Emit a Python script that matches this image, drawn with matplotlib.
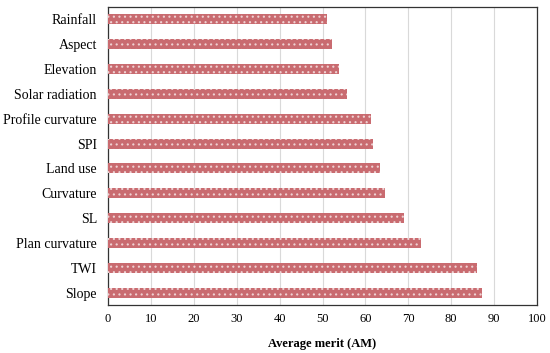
import matplotlib

matplotlib.use("Agg")
import matplotlib.pyplot as plt

plt.rcParams["font.family"] = ["Liberation Serif", "DejaVu Serif"]
plt.rcParams["hatch.linewidth"] = 0.8

factors = [
    "Slope", "TWI", "Plan curvature", "SL", "Curvature", "Land use",
    "SPI", "Profile curvature", "Solar radiation", "Elevation", "Aspect", "Rainfall",
]
merit = [87.1, 85.9, 73.0, 69.1, 64.6, 63.5, 61.8, 61.2, 55.6, 53.9, 52.2, 51.1]
x_ticks = [0, 10, 20, 30, 40, 50, 60, 70, 80, 90, 100]

fig = plt.figure(figsize=(5.5, 3.53), dpi=100)
ax = fig.add_axes([108 / 550, 1 - 305 / 353, 429 / 550, 298 / 353])

pos = range(len(factors))
ax.barh(pos, merit, height=0.4, color="#C96B70", linewidth=0, zorder=3)
# white dotted texture on top of the bars
ax.barh(pos, merit, height=0.4, facecolor="none", edgecolor="#EFD2D3",
        linewidth=0, hatch="...", zorder=4)

ax.set_xlim(0, 100)
ax.set_ylim(-0.5, len(factors) - 0.5)
ax.set_xticks(x_ticks)
ax.set_yticks(list(pos))
ax.set_yticklabels(factors, fontsize=10)
ax.tick_params(axis="x", labelsize=9, length=0, pad=6)
ax.tick_params(axis="y", length=0, pad=8)
ax.grid(axis="x", color="#D9D9D9", linewidth=0.8, zorder=0)
for spine in ax.spines.values():
    spine.set_color("#333333")
    spine.set_linewidth(0.9)

ax.set_xlabel("Average merit (AM)", fontsize=9, fontweight="bold", labelpad=9)

fig.savefig("out.png", dpi=100)
